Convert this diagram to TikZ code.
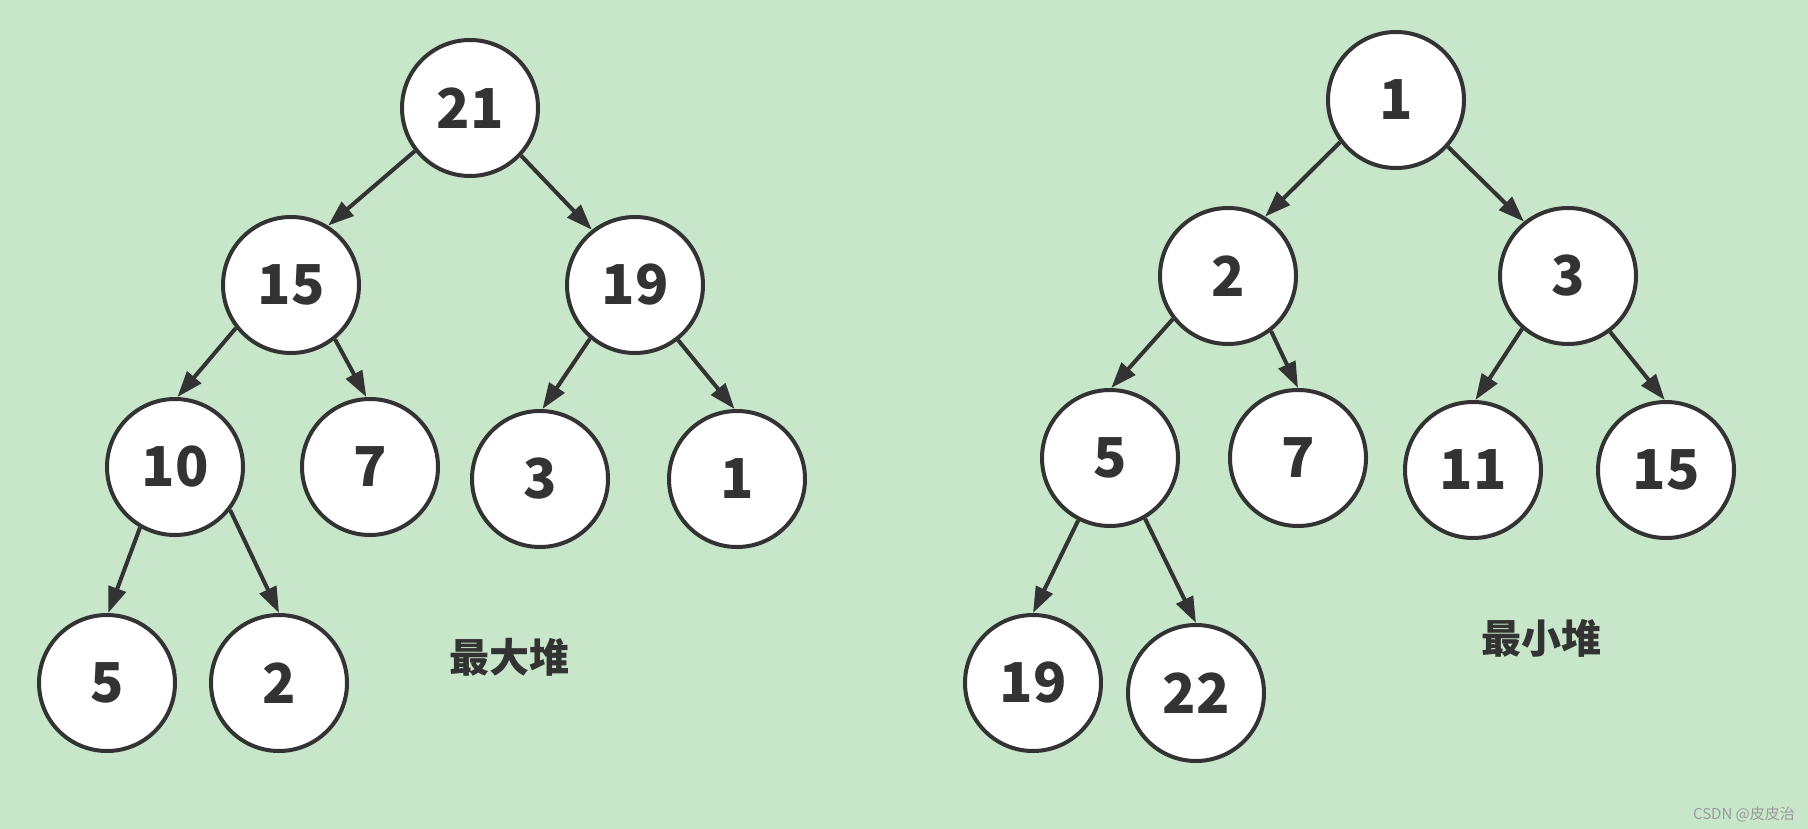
\documentclass[tikz,border=0pt]{standalone}
\usepackage{fontspec}
\usetikzlibrary{arrows.meta}
\newfontfamily\cjk{Noto Sans CJK SC}
\definecolor{bgc}{HTML}{C8E6C9}
\definecolor{ink}{HTML}{333333}
\definecolor{wmc}{HTML}{9A9A9A}
\tikzset{
  nd/.style={circle, draw=ink, fill=white, line width=4pt, minimum size=136pt, inner sep=0pt, text=ink, font=\cjk\bfseries\fontsize{55}{60}\selectfont},
  arr/.style={-{Triangle[length=26pt,width=18pt]}, line width=4pt, draw=ink},
  lbl/.style={text=ink, inner sep=0pt, font=\cjk\bfseries\fontsize{40}{44}\selectfont},
  wm/.style={text=wmc, inner sep=0pt, font=\cjk\fontsize{15}{17}\selectfont}
}
\begin{document}
\begin{tikzpicture}[x=1pt,y=-1pt]
\fill[bgc] (0,0) rectangle (1808,829);
\useasboundingbox (0,0) rectangle (1808,829);
% max heap
\node[nd] (a21) at (470,108) {21};
\node[nd] (a15) at (291,285) {15};
\node[nd] (a19) at (635,285) {19};
\node[nd] (a10) at (175,467) {10};
\node[nd] (a7) at (370,467) {7};
\node[nd] (a3) at (540,479) {3};
\node[nd] (a1) at (737,479) {1};
\node[nd] (a5) at (107,683) {5};
\node[nd] (a2) at (279,683) {2};
\node[lbl] (t1) at (509,657) {最大堆};
% min heap
\node[nd] (b1) at (1396,100) {1};
\node[nd] (b2) at (1228,276) {2};
\node[nd] (b3) at (1568,276) {3};
\node[nd] (b5) at (1110,458) {5};
\node[nd] (b7) at (1298,458) {7};
\node[nd] (b11) at (1473,470) {11};
\node[nd] (b15) at (1666,470) {15};
\node[nd] (b19) at (1033,683) {19};
\node[nd] (b22) at (1196,693) {22};
\node[lbl] (t2) at (1541,638) {最小堆};
\node[wm] (wm) at (1744,814) {CSDN @皮皮治};
% arrows
\draw[arr] (a21.-142) -- (a15.58);
\draw[arr] (a21.-43) -- (a19.128);
\draw[arr] (a15.-142) -- (a10.88);
\draw[arr] (a15.-51) -- (a7.93);
\draw[arr] (a19.-130) -- (a3.88);
\draw[arr] (a19.-52) -- (a1.92);
\draw[arr] (a10.-120) -- (a5.89);
\draw[arr] (a10.-38) -- (a2.90);
\draw[arr] (b1.-143) -- (b2.58);
\draw[arr] (b1.-42) -- (b3.129);
\draw[arr] (b2.-142) -- (b5.89);
\draw[arr] (b2.-52) -- (b7.90);
\draw[arr] (b3.-131) -- (b11.88);
\draw[arr] (b3.-53) -- (b15.91);
\draw[arr] (b5.-117) -- (b19.90);
\draw[arr] (b5.-60) -- (b22.90);
\end{tikzpicture}
\end{document}
